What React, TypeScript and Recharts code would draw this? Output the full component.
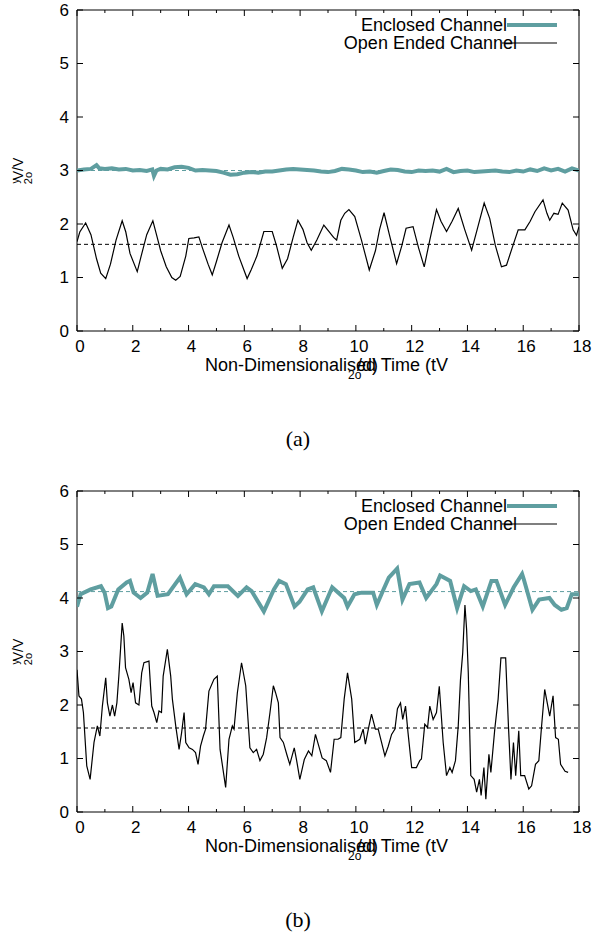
import React from 'react';
import { LineChart, Line, XAxis, YAxis, ReferenceLine, ReferenceArea } from 'recharts';

const TEAL = '#5f9ea0';
const SANS = '"Liberation Sans", Arial, sans-serif';
const SERIF = '"Liberation Serif", "Times New Roman", serif';

const X_TICKS = [0, 1, 2, 3, 4, 5, 6, 7, 8, 9, 10, 11, 12, 13, 14, 15, 16, 17, 18];
const Y_TICKS = [0, 1, 2, 3, 4, 5, 6];
const SERIES_NAMES = ['Enclosed Channel', 'Open Ended Channel'];
const CAPTIONS = ['(a)', '(b)'];

// time-averaged values (dashed lines): [enclosed, open]
const MEANS_A = [3.0, 1.62];
const MEANS_B = [4.12, 1.57];

// panel (a) – enclosed channel [t, V/V2o]
const enclosedA: [number, number][] = [
  [0, 3.0], [0.25, 3.02], [0.5, 3.03], [0.7, 3.1], [0.8, 3.04], [1.0, 3.03], [1.25, 3.04], [1.5, 3.02],
  [1.75, 3.03], [2.0, 3.0], [2.25, 3.01], [2.5, 2.99], [2.7, 3.02], [2.76, 2.9], [2.85, 3.0], [3.0, 3.03],
  [3.25, 3.02], [3.5, 3.06], [3.75, 3.07], [4.0, 3.05], [4.25, 3.0], [4.5, 3.01], [4.75, 3.0], [5.0, 2.99],
  [5.25, 2.96], [5.5, 2.92], [5.75, 2.93], [6.0, 2.96], [6.25, 2.97], [6.5, 2.96], [6.75, 2.98], [7.0, 2.98],
  [7.25, 3.0], [7.5, 3.02], [7.75, 3.03], [8.0, 3.02], [8.25, 3.01], [8.5, 3.0], [8.75, 2.98], [9.0, 2.97],
  [9.25, 2.99], [9.5, 3.03], [9.75, 3.02], [10.0, 3.0], [10.25, 2.97], [10.5, 2.98], [10.75, 2.96], [11.0, 2.99],
  [11.25, 3.02], [11.5, 3.01], [11.75, 2.98], [12.0, 2.97], [12.25, 3.0], [12.5, 2.99], [12.75, 3.0], [13.0, 2.98],
  [13.25, 3.03], [13.5, 2.97], [13.75, 2.99], [14.0, 3.0], [14.25, 2.97], [14.5, 2.98], [14.75, 2.99], [15.0, 3.0],
  [15.25, 2.98], [15.5, 2.97], [15.75, 3.0], [16.0, 2.98], [16.25, 3.02], [16.5, 2.99], [16.75, 3.04], [17.0, 3.0],
  [17.25, 3.03], [17.5, 2.98], [17.75, 3.04], [18.0, 3.0],
];

// panel (a) – open ended channel
const openA: [number, number][] = [
  [0, 1.67], [0.1, 1.85], [0.31, 2.02], [0.5, 1.8], [0.7, 1.35], [0.85, 1.08], [1.03, 0.98], [1.2, 1.25],
  [1.4, 1.7], [1.62, 2.06], [1.75, 1.85], [1.9, 1.45], [2.16, 1.11], [2.3, 1.4], [2.5, 1.8], [2.72, 2.06],
  [2.85, 1.8], [3.0, 1.5], [3.2, 1.2], [3.4, 1.0], [3.54, 0.95], [3.7, 1.02], [3.9, 1.4], [4.01, 1.73],
  [4.2, 1.74], [4.37, 1.76], [4.5, 1.55], [4.7, 1.25], [4.85, 1.05], [5.0, 1.3], [5.2, 1.65], [5.45, 1.98],
  [5.6, 1.75], [5.8, 1.4], [6.1, 0.98], [6.25, 1.15], [6.45, 1.4], [6.7, 1.86], [7.0, 1.86], [7.15, 1.6],
  [7.36, 1.17], [7.55, 1.35], [7.75, 1.75], [7.92, 2.07], [8.1, 1.9], [8.25, 1.65], [8.4, 1.51], [8.6, 1.7],
  [8.85, 1.98], [9.03, 1.86], [9.2, 1.75], [9.31, 1.7], [9.46, 2.07], [9.6, 2.2], [9.75, 2.27], [9.96, 2.14],
  [10.2, 1.7], [10.48, 1.14], [10.7, 1.5], [10.85, 1.9], [11.01, 2.21], [11.2, 1.8], [11.46, 1.26], [11.65, 1.6],
  [11.8, 1.92], [12.05, 1.95], [12.25, 1.55], [12.45, 1.2], [12.65, 1.7], [12.89, 2.27], [13.05, 2.05], [13.25, 1.86],
  [13.45, 2.05], [13.67, 2.29], [13.9, 1.9], [14.15, 1.51], [14.35, 1.9], [14.6, 2.39], [14.8, 2.1], [15.0, 1.6],
  [15.22, 1.2], [15.4, 1.23], [15.6, 1.55], [15.82, 1.89], [16.06, 1.89], [16.25, 2.05], [16.42, 2.23], [16.71, 2.45],
  [16.85, 2.2], [16.95, 2.07], [17.1, 2.2], [17.25, 2.18], [17.4, 2.39], [17.61, 2.26], [17.79, 1.89], [17.91, 1.79],
  [18.0, 1.95],
];

// panel (b) – enclosed channel
const enclosedB: [number, number][] = [
  [0, 3.84], [0.13, 4.07], [0.49, 4.16], [0.86, 4.22], [0.99, 4.1], [1.11, 3.81], [1.23, 3.84], [1.48, 4.16],
  [1.78, 4.29], [1.9, 4.32], [2.03, 4.1], [2.28, 4.0], [2.52, 4.1], [2.71, 4.45], [2.89, 4.04], [3.26, 4.07],
  [3.69, 4.38], [3.93, 4.07], [4.24, 4.26], [4.55, 4.2], [4.73, 4.07], [4.91, 4.22], [5.41, 4.22], [5.77, 4.04],
  [6.08, 4.2], [6.26, 4.13], [6.7, 3.75], [7.06, 4.16], [7.25, 4.32], [7.49, 4.26], [7.8, 3.84], [7.98, 3.93],
  [8.27, 4.16], [8.47, 4.2], [8.78, 3.75], [9.15, 4.2], [9.58, 4.0], [9.7, 3.84], [9.95, 4.07], [10.2, 4.1],
  [10.62, 4.1], [10.75, 3.87], [10.99, 4.16], [11.18, 4.38], [11.48, 4.55], [11.67, 3.97], [11.92, 4.26], [12.28, 4.29],
  [12.52, 4.0], [12.89, 4.26], [13.02, 4.42], [13.38, 4.32], [13.63, 3.81], [13.88, 4.22], [14.12, 4.13], [14.3, 4.16],
  [14.55, 3.84], [14.86, 4.32], [15.04, 4.32], [15.35, 3.87], [15.66, 4.2], [15.96, 4.45], [16.02, 4.35], [16.33, 3.78],
  [16.57, 3.97], [16.94, 4.0], [17.13, 3.87], [17.37, 3.78], [17.56, 3.81], [17.74, 4.07], [18.0, 4.07],
];

// panel (b) – open ended channel
const openB: [number, number][] = [
  [0, 2.66], [0.07, 2.17], [0.16, 2.11], [0.23, 1.86], [0.35, 0.86], [0.47, 0.61], [0.61, 1.3], [0.73, 1.61],
  [0.82, 1.42], [0.91, 1.98], [1.03, 2.51], [1.09, 2.04], [1.18, 1.79], [1.27, 2.0], [1.35, 1.79], [1.43, 2.04],
  [1.5, 2.54], [1.62, 3.53], [1.68, 3.29], [1.74, 2.7], [1.86, 2.48], [1.94, 2.23], [2.01, 2.42], [2.1, 2.04],
  [2.22, 2.0], [2.32, 2.6], [2.4, 2.79], [2.58, 2.82], [2.68, 1.98], [2.76, 1.86], [2.86, 1.67], [2.94, 1.89],
  [3.03, 1.86], [3.09, 2.54], [3.24, 3.04], [3.36, 2.54], [3.42, 2.11], [3.54, 1.61], [3.66, 1.17], [3.75, 1.48],
  [3.84, 1.86], [3.9, 1.3], [4.02, 1.2], [4.14, 1.17], [4.25, 1.11], [4.34, 0.89], [4.43, 1.23], [4.53, 1.42],
  [4.61, 1.55], [4.73, 2.26], [4.91, 2.48], [5.03, 2.54], [5.13, 1.17], [5.33, 0.46], [5.45, 1.36], [5.57, 1.61],
  [5.63, 1.55], [5.75, 2.23], [5.9, 2.79], [6.05, 2.36], [6.2, 1.2], [6.32, 1.11], [6.44, 1.17], [6.56, 0.96],
  [6.68, 1.08], [6.8, 1.39], [6.92, 1.86], [7.04, 2.36], [7.12, 2.23], [7.22, 2.04], [7.28, 1.39], [7.4, 1.3],
  [7.52, 1.08], [7.63, 0.89], [7.79, 1.2], [7.87, 0.98], [7.99, 0.61], [8.15, 0.98], [8.3, 1.14], [8.42, 1.05],
  [8.55, 1.45], [8.67, 1.23], [8.79, 1.01], [8.94, 0.96], [9.09, 0.74], [9.22, 1.36], [9.36, 1.36], [9.46, 1.39],
  [9.58, 2.11], [9.7, 2.6], [9.85, 2.11], [9.96, 1.3], [10.14, 1.36], [10.26, 1.55], [10.34, 1.27], [10.47, 1.61],
  [10.56, 1.83], [10.7, 1.55], [10.8, 1.55], [10.92, 1.3], [11.04, 1.05], [11.16, 1.23], [11.28, 1.45], [11.4, 1.55],
  [11.49, 1.93], [11.6, 2.04], [11.68, 1.73], [11.78, 1.98], [11.87, 1.48], [12.0, 0.83], [12.17, 0.83], [12.29, 0.96],
  [12.35, 0.99], [12.47, 1.64], [12.57, 1.58], [12.65, 1.98], [12.77, 1.73], [12.89, 1.86], [12.99, 2.35], [13.13, 1.3],
  [13.25, 0.68], [13.37, 0.83], [13.45, 0.74], [13.57, 0.96], [13.67, 1.61], [13.75, 2.47], [13.83, 2.97], [13.91, 3.87],
  [13.97, 3.41], [14.03, 2.6], [14.12, 0.68], [14.24, 0.61], [14.33, 0.37], [14.43, 0.61], [14.49, 0.31], [14.59, 0.83],
  [14.66, 0.24], [14.77, 1.08], [14.84, 0.74], [14.98, 1.55], [15.1, 2.11], [15.2, 2.88], [15.37, 2.88], [15.47, 1.61],
  [15.56, 0.61], [15.65, 1.3], [15.73, 0.68], [15.84, 1.52], [15.91, 0.68], [16.05, 0.68], [16.2, 0.43], [16.3, 0.49],
  [16.44, 0.89], [16.56, 0.96], [16.65, 1.55], [16.77, 2.29], [16.95, 1.79], [17.07, 2.17], [17.16, 1.39], [17.26, 1.36],
  [17.34, 0.89], [17.5, 0.76], [17.61, 0.74],
];

const W = 596;
const H = 370;
const MARGIN = { top: 10, right: 17, left: 0, bottom: 9 };
const PLOT_TOP = MARGIN.top;
const PLOT_RIGHT = W - MARGIN.right;

const toRows = (pts: [number, number][]) => pts.map(([t, v]) => ({ t, v }));

function XTick(props: any) {
  const { x, y, payload } = props;
  const v = payload.value;
  const major = v % 2 === 0;
  const len = major ? 6 : 3;
  return (
    <g>
      <line x1={x} x2={x} y1={y} y2={y - len} stroke="#000" strokeWidth={1} />
      <line x1={x} x2={x} y1={PLOT_TOP} y2={PLOT_TOP + len} stroke="#000" strokeWidth={1} />
      {major && (
        <text x={x + 3} y={y + 21} textAnchor="middle" fontFamily={SANS} fontSize={17} fill="#000">
          {v}
        </text>
      )}
    </g>
  );
}

function YTick(props: any) {
  const { x, y, payload } = props;
  return (
    <g>
      <line x1={x} x2={x + 6} y1={y} y2={y} stroke="#000" strokeWidth={1} />
      <line x1={PLOT_RIGHT} x2={PLOT_RIGHT - 6} y1={y} y2={y} stroke="#000" strokeWidth={1} />
      <text x={x - 8} y={y} dy="0.35em" textAnchor="end" fontFamily={SANS} fontSize={17} fill="#000">
        {payload.value}
      </text>
    </g>
  );
}

function Overlay({ caption }: { caption: string }) {
  return (
    <svg width={W} height={470} style={{ position: 'absolute', left: 0, top: 0, pointerEvents: 'none' }}>
      {/* legend */}
      <text x={507} y={31} textAnchor="end" fontFamily={SANS} fontSize={18} fill="#000">{SERIES_NAMES[0]}</text>
      <line x1={507} x2={557} y1={25} y2={25} stroke={TEAL} strokeWidth={4} />
      <text x={517} y={49} textAnchor="end" fontFamily={SANS} fontSize={18} fill="#000">{SERIES_NAMES[1]}</text>
      <line x1={502} x2={557} y1={43} y2={43} stroke="#000" strokeWidth={1.2} />
      {/* y label */}
      <g transform="translate(23,169) rotate(-90)">
        <text x={0} y={0} textAnchor="middle" fontFamily={SANS} fontSize={14} fill="#000">V/V</text>
        <text x={-12} y={-4} textAnchor="middle" fontFamily={SANS} fontSize={10} fill="#000">y</text>
        <text x={-9} y={9} textAnchor="middle" fontFamily={SANS} fontSize={11} fill="#000">2o</text>
      </g>
      {/* x label */}
      <text x={205} y={371} fontFamily={SANS} fontSize={18} fill="#000">Non-Dimensionalised Time (tV</text>
      <text x={357} y={371} fontFamily={SANS} fontSize={18} fill="#000">/d)</text>
      <text x={348} y={379} fontFamily={SANS} fontSize={12} fill="#000">2o</text>
      {/* caption */}
      <text x={298} y={446} textAnchor="middle" fontFamily={SERIF} fontSize={22} fill="#000">{caption}</text>
    </svg>
  );
}

function Panel({ enclosed, open, means, caption, top }: {
  enclosed: [number, number][]; open: [number, number][]; means: number[]; caption: string; top: number;
}) {
  return (
    <div style={{ position: 'absolute', left: 0, top, width: W, height: 470 }}>
      <LineChart width={W} height={H} margin={MARGIN}>
        <XAxis
          xAxisId={0}
          type="number"
          dataKey="t"
          domain={[0, 18]}
          ticks={X_TICKS}
          interval={0}
          height={30}
          axisLine={false}
          tickLine={false}
          tickSize={0}
          tickMargin={0}
          tick={<XTick />}
          allowDataOverflow
        />
        <YAxis
          yAxisId={0}
          type="number"
          domain={[0, 6]}
          ticks={Y_TICKS}
          interval={0}
          width={77}
          axisLine={false}
          tickLine={false}
          tickSize={0}
          tickMargin={0}
          tick={<YTick />}
          allowDataOverflow
        />
        <ReferenceArea x1={0} x2={18} y1={0} y2={6} fill="none" fillOpacity={0} stroke="#000" strokeWidth={1} />
        <ReferenceLine y={means[0]} stroke={TEAL} strokeWidth={1} strokeDasharray="4 3" />
        <ReferenceLine y={means[1]} stroke="#000" strokeWidth={1} strokeDasharray="4 3" />
        <Line
          data={toRows(enclosed)}
          dataKey="v"
          name={SERIES_NAMES[0]}
          type="linear"
          stroke={TEAL}
          strokeWidth={4}
          dot={false}
          activeDot={false}
          isAnimationActive={false}
        />
        <Line
          data={toRows(open)}
          dataKey="v"
          name={SERIES_NAMES[1]}
          type="linear"
          stroke="#000"
          strokeWidth={1.2}
          dot={false}
          activeDot={false}
          isAnimationActive={false}
        />
      </LineChart>
      <Overlay caption={caption} />
    </div>
  );
}

export default function App() {
  return (
    <div style={{ position: 'absolute', left: 0, top: 0, width: W, height: 938, background: '#fff' }}>
      <Panel enclosed={enclosedA} open={openA} means={MEANS_A} caption={CAPTIONS[0]} top={0} />
      <Panel enclosed={enclosedB} open={openB} means={MEANS_B} caption={CAPTIONS[1]} top={481} />
    </div>
  );
}
